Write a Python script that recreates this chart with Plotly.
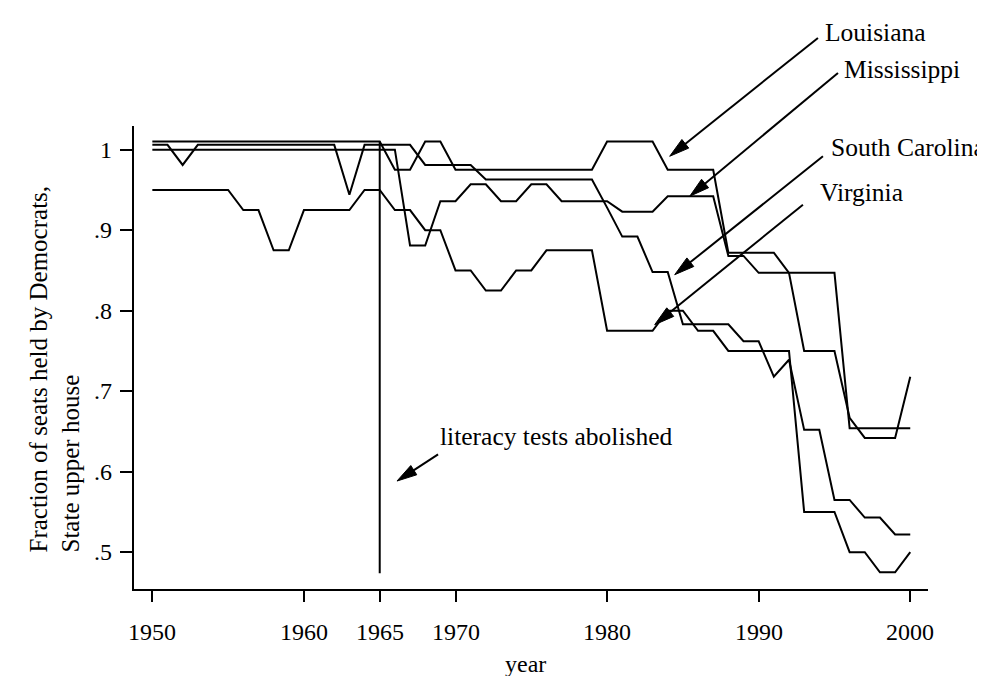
import math
import plotly.graph_objects as go

# ---------------- data ----------------
years = list(range(1950, 2001))

louisiana = [
    1.01, 1.01, 1.01, 1.01, 1.01, 1.01, 1.01, 1.01, 1.01, 1.01,        # 1950-59
    1.01, 1.01, 1.01, 1.01, 1.01, 1.01, 0.975, 0.975, 1.01, 1.01,      # 1960-69
    0.975, 0.975, 0.975, 0.975, 0.975, 0.975, 0.975, 0.975, 0.975, 0.975,  # 1970-79
    1.01, 1.01, 1.01, 1.01, 0.975, 0.975, 0.975, 0.975, 0.872, 0.872,  # 1980-89
    0.872, 0.872, 0.847, 0.75, 0.75, 0.75, 0.667, 0.642, 0.642, 0.642,  # 1990-99
    0.718,                                                             # 2000
]

mississippi = [
    1.0, 1.0, 1.0, 1.0, 1.0, 1.0, 1.0, 1.0, 1.0, 1.0,
    1.0, 1.0, 1.0, 1.0, 1.0, 1.0, 1.0, 0.881, 0.881, 0.936,
    0.936, 0.957, 0.957, 0.936, 0.936, 0.957, 0.957, 0.936, 0.936, 0.936,
    0.936, 0.923, 0.923, 0.923, 0.942, 0.942, 0.942, 0.942, 0.868, 0.868,
    0.847, 0.847, 0.847, 0.847, 0.847, 0.847, 0.654, 0.654, 0.654, 0.654,
    0.654,
]

south_carolina = [
    1.006, 1.006, 0.981, 1.006, 1.006, 1.006, 1.006, 1.006, 1.006, 1.006,
    1.006, 1.006, 1.006, 0.944, 1.006, 1.006, 1.006, 1.006, 0.981, 0.981,
    0.981, 0.981, 0.963, 0.963, 0.963, 0.963, 0.963, 0.963, 0.963, 0.963,
    0.928, 0.892, 0.892, 0.848, 0.848, 0.783, 0.783, 0.783, 0.783, 0.762,
    0.762, 0.718, 0.739, 0.652, 0.652, 0.565, 0.565, 0.543, 0.543, 0.522,
    0.522,
]

virginia = [
    0.95, 0.95, 0.95, 0.95, 0.95, 0.95, 0.925, 0.925, 0.875, 0.875,
    0.925, 0.925, 0.925, 0.925, 0.95, 0.95, 0.925, 0.925, 0.90, 0.90,
    0.85, 0.85, 0.825, 0.825, 0.85, 0.85, 0.875, 0.875, 0.875, 0.875,
    0.775, 0.775, 0.775, 0.775, 0.80, 0.80, 0.775, 0.775, 0.75, 0.75,
    0.75, 0.75, 0.75, 0.55, 0.55, 0.55, 0.50, 0.50, 0.475, 0.475,
    0.50,
]

x_tickvals = [1950, 1960, 1965, 1970, 1980, 1990, 2000]
x_ticktext = ["1950", "1960", "1965", "1970", "1980", "1990", "2000"]
y_tickvals = [0.5, 0.6, 0.7, 0.8, 0.9, 1.0]
y_ticktext = [".5", ".6", ".7", ".8", ".9", "1"]

literacy_year = 1965
literacy_line_y = [0.474, 1.01]

# ---------------- layout geometry ----------------
W, H = 985, 676
PX_L, PX_R, PX_T, PX_B = 126, 920, 118, 581
X_RANGE = [1948.79, 2001.17]
Y_RANGE = [0.4543, 1.0294]
FONT = "Liberation Serif"


def to_px(x, y):
    px = PX_L + (x - X_RANGE[0]) / (X_RANGE[1] - X_RANGE[0]) * (PX_R - PX_L)
    py = PX_B - (y - Y_RANGE[0]) / (Y_RANGE[1] - Y_RANGE[0]) * (PX_B - PX_T)
    return px, py


def px_to_paper(px, py):
    return (px - PX_L) / (PX_R - PX_L), (PX_B - py) / (PX_B - PX_T)


def data_to_paper(x, y):
    return px_to_paper(*to_px(x, y))


fig = go.Figure()

for name, vals in [("Louisiana", louisiana), ("Mississippi", mississippi),
                   ("South Carolina", south_carolina), ("Virginia", virginia)]:
    fig.add_trace(go.Scatter(x=years, y=vals, mode="lines", name=name,
                             line=dict(color="black", width=2),
                             showlegend=False, hoverinfo="x+y+name"))

fig.add_trace(go.Scatter(x=[literacy_year, literacy_year], y=literacy_line_y,
                         mode="lines", line=dict(color="black", width=2),
                         showlegend=False, hoverinfo="skip"))

# ---------------- annotations (labels + arrows) ----------------
labels = [
    # text, text anchor (year, value), arrow tail, arrow head
    ("Louisiana", (1994.24, 1.146), (1993.91, 1.1388), (1984.13, 0.9918)),
    ("Mississippi", (1995.49, 1.0996), (1995.23, 1.0953), (1985.45, 0.9421)),
    ("South Carolina", (1994.62, 1.0026), (1994.24, 0.9918), (1984.46, 0.8447)),
    ("Virginia", (1993.89, 0.9467), (1992.92, 0.9317), (1983.14, 0.7826)),
    ("literacy tests abolished", (1968.85, 0.6436), (1968.85, 0.6215), (1966.14, 0.5884)),
]

shapes = []
annotations = []
HEAD_LEN, HEAD_HALF = 20, 5.5

for text, tpos, tail, head in labels:
    px_, py_ = data_to_paper(*tpos)
    annotations.append(dict(text=text, x=px_, y=py_, xref="paper", yref="paper",
                            xanchor="left", yanchor="middle", showarrow=False,
                            font=dict(family=FONT, size=25.5, color="black")))
    tx, ty = to_px(*tail)
    hx, hy = to_px(*head)
    dx, dy = hx - tx, hy - ty
    n = math.hypot(dx, dy)
    ux, uy = dx / n, dy / n
    bx, by = hx - ux * HEAD_LEN, hy - uy * HEAD_LEN
    nx, ny = -uy, ux
    p0 = px_to_paper(tx, ty)
    p1 = px_to_paper(bx + ux * 3, by + uy * 3)
    shapes.append(dict(type="line", xref="paper", yref="paper",
                       x0=p0[0], y0=p0[1], x1=p1[0], y1=p1[1],
                       line=dict(color="black", width=2)))
    pts = [(hx, hy), (bx + nx * HEAD_HALF, by + ny * HEAD_HALF),
           (bx - nx * HEAD_HALF, by - ny * HEAD_HALF)]
    ppts = [px_to_paper(*p) for p in pts]
    path = "M " + " L ".join(f"{a:.5f},{b:.5f}" for a, b in ppts) + " Z"
    shapes.append(dict(type="path", xref="paper", yref="paper", path=path,
                       fillcolor="black", line=dict(color="black", width=1)))

# tick labels placed as text at the tick positions
TICK_FONT = dict(family=FONT, size=24, color="black")
for v, t in zip(x_tickvals, x_ticktext):
    px_, _ = to_px(v, Y_RANGE[0])
    a, b = px_to_paper(px_, 624)
    annotations.append(dict(text=t, x=a, y=b, xref="paper", yref="paper",
                            xanchor="center", yanchor="middle", showarrow=False,
                            font=TICK_FONT))
for v, t in zip(y_tickvals, y_ticktext):
    _, py_ = to_px(X_RANGE[0], v)
    a, b = px_to_paper(106, py_)
    annotations.append(dict(text=t, x=a, y=b, xref="paper", yref="paper",
                            xanchor="right", yanchor="middle", showarrow=False,
                            font=TICK_FONT))

# axis titles
yt = px_to_paper(46, 547)
annotations.append(dict(text="Fraction of seats held by Democrats,<br>State upper house",
                        x=yt[0], y=yt[1], xref="paper", yref="paper",
                        xanchor="center", yanchor="bottom", textangle=-90,
                        align="left", showarrow=False,
                        font=dict(family=FONT, size=25, color="black")))
xt = px_to_paper(517.5, 656)
annotations.append(dict(text="year", x=xt[0], y=xt[1], xref="paper", yref="paper",
                        xanchor="center", yanchor="middle", showarrow=False,
                        font=dict(family=FONT, size=24, color="black")))

fig.update_layout(
    width=W, height=H,
    margin=dict(l=PX_L, r=W - PX_R, t=PX_T, b=H - PX_B, pad=0),
    paper_bgcolor="white", plot_bgcolor="white",
    font=dict(family=FONT, size=24, color="black"),
    shapes=shapes, annotations=annotations,
    showlegend=False,
    xaxis=dict(range=X_RANGE, tickvals=x_tickvals, showticklabels=False,
               showgrid=False, zeroline=False, showline=True,
               linecolor="black", linewidth=2, ticks="outside", ticklen=11,
               tickwidth=2, tickcolor="black",
               automargin=False, fixedrange=True),
    yaxis=dict(range=Y_RANGE, tickvals=y_tickvals, showticklabels=False,
               showgrid=False, zeroline=False, showline=True,
               linecolor="black", linewidth=2, ticks="outside", ticklen=12,
               tickwidth=2, tickcolor="black",
               automargin=False, fixedrange=True),
)

fig.write_html("out.html")
